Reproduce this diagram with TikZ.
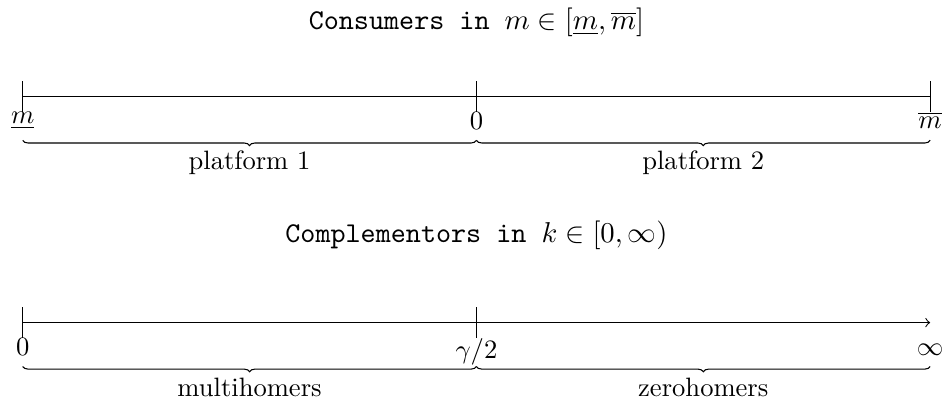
\documentclass[tikz,border=0pt]{standalone}
\usetikzlibrary{decorations.pathreplacing}
\begin{document}
\begin{tikzpicture}
			\useasboundingbox (-0.30,-4.08) rectangle (12.17,1.276);
			% Styles
			\tikzset{
				segbrace/.style={decorate,decoration={brace,mirror,amplitude=2pt}},
				ticklabel/.style={below,inner sep=0pt},
				linetitle/.style={scale=1.08}
			}

			% Consumers line
			\coordinate (mlo) at (0,0);
			\coordinate (mzero) at (6,0);
			\coordinate (mhi) at (12,0);
			\node[linetitle] (ctitle) at (6,0.98) {\texttt{Consumers in }$m\in[\underline{m},\overline{m}]$};
			\draw (mlo) -- (mhi);
			\draw ([yshift=0.2cm]mlo) -- ([yshift=-0.2cm]mlo) node[ticklabel] (lmlo) {$\underline{m}$};
			\draw ([yshift=0.2cm]mzero) -- ([yshift=-0.2cm]mzero) node[ticklabel] (lmzero) {$0$};
			\draw ([yshift=0.2cm]mhi) -- ([yshift=-0.2cm]mhi) node[ticklabel] (lmhi) {$\overline{m}$};

			% Platform braces
			\draw[segbrace] (0,-0.58) -- (6,-0.58);
			\draw[segbrace] (6,-0.58) -- (12,-0.58);
			\node (plat1) at (3,-0.88) {platform 1};
			\node (plat2) at (9,-0.88) {platform 2};

			% Complementors line
			\coordinate (kzero) at (0,-2.99);
			\coordinate (kgam) at (6,-2.99);
			\coordinate (kinf) at (12,-2.99);
			\node[linetitle] (ktitle) at (6,-1.84) {\texttt{Complementors in }$k\in[0,\infty)$};
			\draw[->] (kzero) -- (kinf);
			\draw ([yshift=0.2cm]kzero) -- ([yshift=-0.2cm]kzero) node[ticklabel] (lkzero) {$0$};
			\draw ([yshift=0.2cm]kgam) -- ([yshift=-0.2cm]kgam) node[ticklabel] (lkgam) {$\gamma/2$};
			\node[ticklabel] (lkinf) at ([yshift=-0.2cm]kinf) {$\vphantom{0}\infty$};

			% Multihomers and zerohomers
			\draw[segbrace] (0,-3.57) -- (6,-3.57);
			\draw[segbrace] (6,-3.57) -- (12,-3.57);
			\node (multi) at (3,-3.85) {multihomers};
			\node (zero) at (9,-3.85) {zerohomers};
		\end{tikzpicture}
\end{document}
